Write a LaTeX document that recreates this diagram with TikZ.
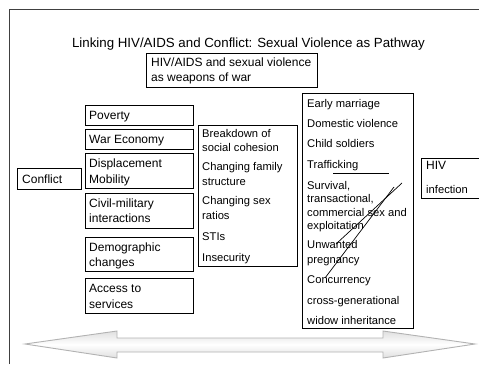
\documentclass[tikz,border=0pt]{standalone}
\usepackage{fontspec}
\setmainfont{Liberation Sans}
\begin{document}
\begin{tikzpicture}[x=1pt,y=-1pt,
  box/.style={draw=black, line width=0.8pt, anchor=north west, inner sep=0pt, outer sep=0pt},
  lt/.style={anchor=base west, inner sep=0pt, font=\fontsize{12}{14}\selectfont},
  st/.style={anchor=base west, inner sep=0pt, font=\fontsize{11.2}{13}\selectfont},
  thin line/.style={draw=black, line width=0.7pt}
]
\useasboundingbox (0,0) rectangle (479,364);
% outer frame
\draw[draw=black!75, line width=0.9pt] (9.5,364) -- (9.5,9.5) -- (479,9.5);
% title
\node[anchor=base, inner sep=0pt, font=\fontsize{13.3}{15}\selectfont] (title) at (248.5,47) {Linking HIV/AIDS and Conflict: Sexual Violence as Pathway};
% weapons box
\node[box, minimum width=171pt, minimum height=34pt] (bweap) at (146,53) {};
\node[lt] (w1) at (151,66) {HIV/AIDS and sexual violence};
\node[lt] (w2) at (151,81) {as weapons of war};
% conflict
\node[box, minimum width=64pt, minimum height=21pt] (bconf) at (17,168) {};
\node[lt] (c1) at (22,183) {Conflict};
% left column
\node[box, minimum width=108pt, minimum height=20pt] (bpov) at (85,105) {};
\node[lt] (l1) at (89,119) {Poverty};
\node[box, minimum width=108pt, minimum height=20pt] (bwar) at (85,129) {};
\node[lt] (l2) at (89,143) {War Economy};
\node[box, minimum width=108pt, minimum height=35pt] (bdis) at (85,153) {};
\node[lt] (l3) at (89,167) {Displacement};
\node[lt] (l4) at (89,183) {Mobility};
\node[box, minimum width=108pt, minimum height=35pt] (bciv) at (85,193) {};
\node[lt] (l5) at (89,207.5) {Civil-military};
\node[lt] (l6) at (89,222.5) {interactions};
\node[box, minimum width=108pt, minimum height=34pt] (bdem) at (85,237) {};
\node[lt] (l7) at (89,251.5) {Demographic};
\node[lt] (l8) at (89,266.5) {changes};
\node[box, minimum width=108pt, minimum height=35pt] (bacc) at (85,278) {};
\node[lt] (l9) at (89,292.5) {Access to};
\node[lt] (l10) at (89,308) {services};
% middle column
\node[box, minimum width=99pt, minimum height=141pt] (bmid) at (198,125) {};
\node[st] (m1) at (202,137) {Breakdown of};
\node[st] (m2) at (202,151) {social cohesion};
\node[st] (m3) at (202,170.5) {Changing family};
\node[st] (m4) at (202,185) {structure};
\node[st] (m5) at (202,204.5) {Changing sex};
\node[st] (m6) at (202,219) {ratios};
\node[st] (m7) at (202,240) {STIs};
\node[st] (m8) at (202,261) {Insecurity};
% right column
\node[box, minimum width=111pt, minimum height=235pt] (bright) at (302,93) {};
\node[st] (r1) at (307,107) {Early marriage};
\node[st] (r2) at (307,127.5) {Domestic violence};
\node[st] (r3) at (307,147.5) {Child soldiers};
\node[st] (r4) at (307,168) {Trafficking};
\node[st] (r5) at (307,189) {Survival,};
\node[st] (r6) at (307,202.5) {transactional,};
\node[st] (r7) at (307,216) {commercial sex and};
\node[st] (r8) at (307,229.5) {exploitation};
\node[st] (r9) at (307,248.5) {Unwanted};
\node[st] (r10) at (307,263) {pregnancy};
\node[st] (r11) at (307,283.5) {Concurrency};
\node[st] (r12) at (307,304) {cross-generational};
\node[st] (r13) at (307,324) {widow inheritance};
% HIV infection
\node[box, minimum width=70pt, minimum height=40pt] (bhiv) at (421,158) {};
\node[lt] (h1) at (426,169.5) {HIV};
\node[st] (h2) at (426,193) {infection};
% strokes
\coordinate (u1) at (333,173);
\coordinate (u2) at (389,173);
\draw[thin line] (u1) -- (u2);
\coordinate (a1) at (402,183);
\coordinate (a2) at (336,244);
\draw[thin line] (a1) -- (a2);
\coordinate (b1) at (394,187);
\coordinate (b2) at (325,278);
\draw[thin line] (b1) -- (b2);
% bottom double arrow
\path[draw=gray!60, line width=0.9pt, top color=gray!25, bottom color=gray!25, middle color=white]
  (25,344) -- (117,331) -- (117,338) -- (383,338) -- (383,331) -- (475,344)
  -- (383,358) -- (383,352) -- (117,352) -- (117,358) -- cycle;
\end{tikzpicture}
\end{document}
